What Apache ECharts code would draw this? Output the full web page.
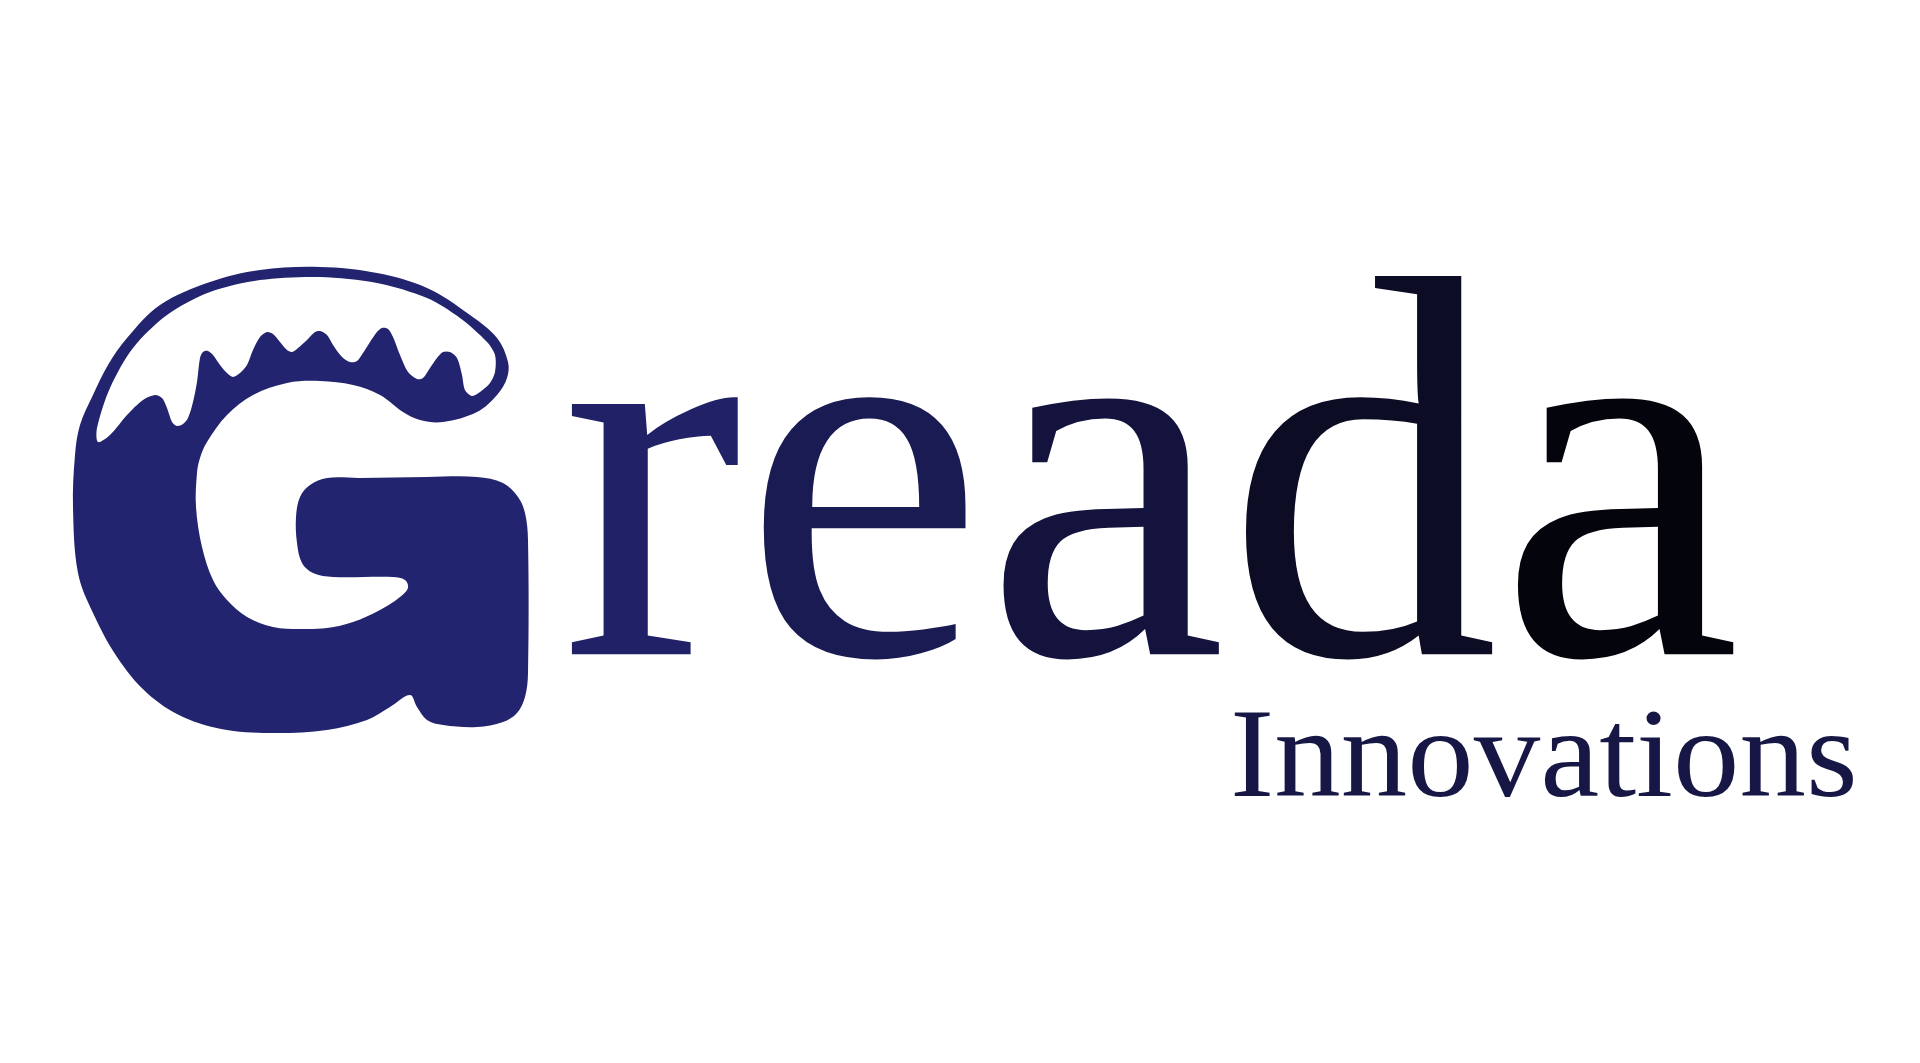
<!DOCTYPE html>
<html>
<head>
<meta charset="utf-8">
<script src="https://cdn.jsdelivr.net/npm/echarts@6/dist/echarts.min.js"></script>
<style>
  html, body { margin: 0; padding: 0; background: #ffffff; }
  #logo { width: 1920px; height: 1063px; }
</style>
</head>
<body>
<div id="logo"></div>
<script>
// wordmark texts
var wordTail = ['r', 'e', 'a', 'd', 'a'];
var tagline = 'Innovations';

// emblem "G": outer navy body, traced on a 1920 x 1063 canvas grid
var gBody = [
  [260, 270], [320, 267], [377, 273], [427, 288], [470, 315], [497, 338], [508, 362], [507, 378],
  [497, 395], [477, 412], [443, 422], [420, 420], [403, 412], [380, 395], [353, 385], [320, 381],
  [287, 383], [253, 395], [227, 415], [207, 442], [200, 458], [197, 473], [196, 507], [202, 547],
  [213, 580], [227, 600], [247, 617], [273, 627], [300, 629], [327, 628], [353, 622], [380, 610],
  [400, 597], [408, 588], [405, 580], [393, 577], [333, 577], [313, 573], [302, 563], [297, 543],
  [296, 517], [300, 497], [310, 485], [327, 478], [360, 478], [427, 477], [477, 477], [503, 483],
  [518, 497], [525, 513], [528, 540], [528, 673], [525, 697], [517, 713], [503, 722], [477, 727],
  [443, 725], [427, 720], [417, 707], [410, 695], [390, 707], [367, 720], [327, 730], [277, 733],
  [227, 730], [183, 717], [147, 693], [117, 657], [93, 613], [78, 573], [73, 507], [75, 455],
  [80, 425], [93, 395], [108, 365], [127, 338], [160, 305], [210, 282]
];

// white snow cap with drips inside the top arm
var gCap = [
  [260, 280], [320, 277], [377, 283], [427, 298], [460, 318], [487, 342], [495, 355], [495, 372],
  [490, 383], [480, 392], [472, 396], [465, 390], [462, 375], [457, 358], [450, 352], [443, 352],
  [437, 358], [430, 368], [423, 378], [417, 379], [408, 372], [400, 355], [393, 337], [388, 329],
  [382, 328], [377, 332], [370, 342], [363, 353], [357, 361], [350, 362], [342, 357], [333, 345],
  [327, 335], [320, 331], [315, 332], [307, 340], [298, 348], [292, 352], [287, 350], [280, 342],
  [273, 334], [267, 332], [260, 337], [253, 350], [247, 365], [240, 373], [233, 377], [227, 373],
  [220, 365], [213, 355], [208, 351], [203, 352], [200, 358], [197, 382], [193, 402], [188, 418],
  [183, 424], [177, 426], [172, 422], [167, 408], [162, 398], [155, 395], [143, 400], [127, 415],
  [110, 435], [98, 442], [97, 428], [110, 388], [133, 348], [167, 315], [210, 292]
];

// colour ramp of the wordmark, left to right
var rampStops = [0, 0.5, 1];
var rampColors = [[36, 36, 111], [18, 18, 58], [0, 0, 0]];

var navy = '#23246f';
var taglineColor = '#161745';
var serif = 'Liberation Serif';
var wordSize = 545;
var tagSize = 126;

function rampAt(t) {
  t = Math.max(0, Math.min(1, t));
  for (var i = 1; i < rampStops.length; i++) {
    if (t <= rampStops[i]) {
      var k = (t - rampStops[i - 1]) / (rampStops[i] - rampStops[i - 1]);
      var a = rampColors[i - 1], b = rampColors[i];
      return 'rgb(' + [0, 1, 2].map(function (j) { return Math.round(a[j] + (b[j] - a[j]) * k); }).join(',') + ')';
    }
  }
  return 'rgb(0,0,0)';
}

function draw() {
  // measure glyph advances so each letter can take its own shade
  var ctx = document.createElement('canvas').getContext('2d');
  ctx.font = wordSize + 'px "' + serif + '"';
  var advances = wordTail.map(function (ch) { return ctx.measureText(ch).width; });
  var totalAdv = advances.reduce(function (s, w) { return s + w; }, 0);

  var myChart = echarts.init(document.getElementById('logo'));
  var option = {
    backgroundColor: '#ffffff',
    animation: false,
    grid: { left: 0, right: 0, top: 0, bottom: 0 },
    xAxis: { type: 'value', min: 0, max: 1920, show: false },
    yAxis: { type: 'value', min: 0, max: 1063, inverse: true, show: false },
    series: [
      {
        type: 'custom',
        silent: true,
        data: [[0, 0]],
        renderItem: function (params, api) {
          var toPx = function (pts) {
            return pts.map(function (p) { return api.coord(p); });
          };
          var wordPos = api.coord([561, 511]);
          var tagPos = api.coord([1230, 763]);
          var children = [
            {
              type: 'polygon',
              shape: { points: toPx(gBody), smooth: 0.35 },
              style: { fill: navy }
            },
            {
              type: 'polygon',
              shape: { points: toPx(gCap), smooth: 0.3 },
              style: { fill: '#ffffff' }
            }
          ];
          var cursor = 0;
          wordTail.forEach(function (ch, i) {
            var mid = (cursor + advances[i] / 2) / totalAdv;
            children.push({
              type: 'text',
              x: wordPos[0] + cursor,
              y: wordPos[1],
              style: {
                text: ch,
                x: 0,
                y: 0,
                fontFamily: serif,
                fontSize: wordSize,
                align: 'left',
                verticalAlign: 'middle',
                fill: rampAt(mid)
              }
            });
            cursor += advances[i];
          });
          children.push({
            type: 'text',
            x: tagPos[0],
            y: tagPos[1],
            scaleX: 1.055,
            style: {
              text: tagline,
              x: 0,
              y: 0,
              fontFamily: serif,
              fontSize: tagSize,
              align: 'left',
              verticalAlign: 'middle',
              fill: taglineColor
            }
          });
          return { type: 'group', children: children };
        }
      }
    ]
  };
  option && myChart.setOption(option);
}

document.fonts.load(wordSize + 'px "' + serif + '"').then(draw, draw);
</script>
</body>
</html>
